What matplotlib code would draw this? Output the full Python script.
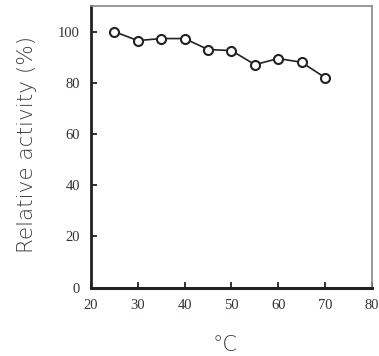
import matplotlib
matplotlib.use("Agg")
import matplotlib.pyplot as plt

temperature = [25, 30, 35, 40, 45, 50, 55, 60, 65, 70]
activity = [100, 96.5, 97.3, 97.3, 93, 92.6, 87.1, 89.5, 88, 82]
xticks = [20, 30, 40, 50, 60, 70, 80]
yticks = [0, 20, 40, 60, 80, 100]

fig = plt.figure(figsize=(3.79, 3.56), dpi=100)
ax = fig.add_axes([0.240, 0.1924, 0.7415, 0.7906])
ax.plot(temperature, activity, color="#222222", lw=1.2, marker="o", ms=6.5,
        mfc="white", mec="#222222", mew=1.5, zorder=3)
ax.set_xlim(20, 80)
ax.set_ylim(0, 110)
ax.set_xticks(xticks)
ax.set_yticks(yticks)
ax.tick_params(direction="in", length=4, width=1.3, color="#222222",
               labelsize=10.5, pad=8, labelcolor="#3a3030")
for lab in ax.get_xticklabels() + ax.get_yticklabels():
    lab.set_fontfamily("Liberation Serif")
ax.spines["left"].set_linewidth(2)
ax.spines["bottom"].set_linewidth(2.2)
ax.spines["left"].set_color("#222222")
ax.spines["bottom"].set_color("#222222")
for s in ("top", "right"):
    ax.spines[s].set_linewidth(1.2)
    ax.spines[s].set_color("#888888")
fig.text(0.071, 0.594, "Relative activity (%)", rotation=90, ha="center", va="center",
         fontsize=15.5, color="#404040", family="DejaVu Sans", fontweight="light")
fig.text(0.593, 0.031, "°C", ha="center", va="center", fontsize=15,
         color="#404040", family="DejaVu Sans", fontweight="light")
fig.savefig("out.png", dpi=100)
